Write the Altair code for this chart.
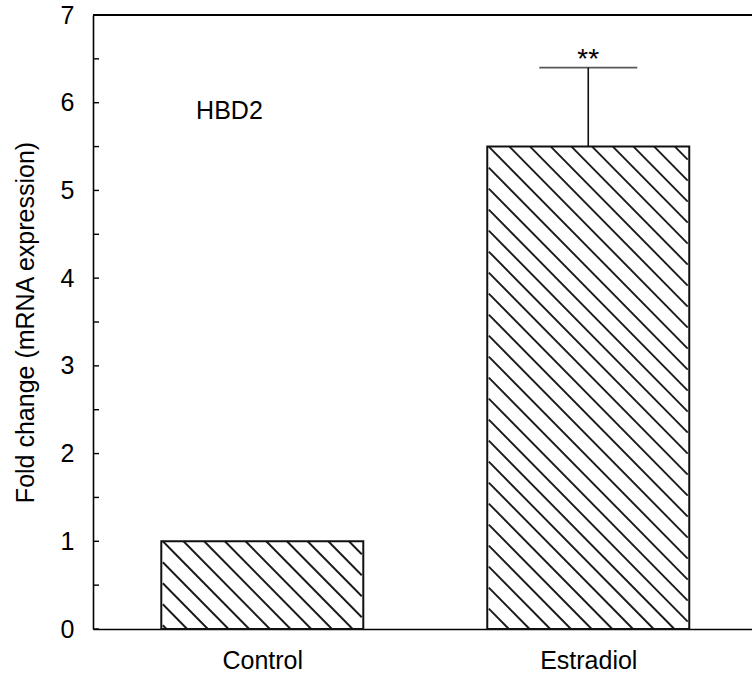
import altair as alt
import pandas as pd

# ---- data ----
categories = ["Control", "Estradiol"]
cat_pos = [1, 2]
fold_change = [1.0, 5.5]
err_cats = ["Estradiol"]
err_pos = [2]
err_low = [5.5]
err_high = [6.4]
sig_labels = ["**"]
y_tick_values = [0, 0.5, 1, 1.5, 2, 2.5, 3, 3.5, 4, 4.5, 5, 5.5, 6, 6.5, 7]
y_label_values = [0, 1, 2, 3, 4, 5, 6, 7]
panel_label = ["HBD2"]

# ---- layout constants ----
W, H = 659, 614
XDOM = [0.496, 2.487]
YDOM = [0, 7]
BAR_PX = 202
CAP_PX = 98
HATCH_STEP = 21
FONT = "Liberation Sans"
FS = 25

x_scale = alt.Scale(domain=XDOM, nice=False, zero=False)
y_scale = alt.Scale(domain=YDOM, nice=False)

bars = pd.DataFrame({"cat": categories, "pos": cat_pos, "value": fold_change})
errs = pd.DataFrame({"cat": err_cats, "pos": err_pos, "lo": err_low, "hi": err_high, "sig": sig_labels})
ticks = pd.DataFrame({"t": y_tick_values})
label_df = pd.DataFrame({"txt": panel_label, "px": [0.797], "py": [5.815]})

# hatch segments derived from the bar values (45 deg in pixel space)
kx = W / (XDOM[1] - XDOM[0])
ky = H / (YDOM[1] - YDOM[0])
rows = []
for c, v in zip(cat_pos, fold_change):
    xl = (c - XDOM[0]) * kx - BAR_PX / 2
    xr = xl + BAR_PX
    yt = (v - YDOM[0]) * ky
    b0 = xl + yt
    k_min = int((xl - b0) // HATCH_STEP)
    k_max = int((xr + yt - b0) // HATCH_STEP) + 1
    for k in range(k_min, k_max + 1):
        b = b0 + k * HATCH_STEP
        xs = max(xl, b - yt)
        xe = min(xr, b)
        if xe - xs < 1:
            continue
        ys, ye = b - xs, b - xe
        rows.append({
            "x1": XDOM[0] + xs / kx, "x2": XDOM[0] + xe / kx,
            "y1": YDOM[0] + ys / ky, "y2": YDOM[0] + ye / ky,
        })
hatch_df = pd.DataFrame(rows)

label_expr = f"{categories}[datum.value - 1]"

x_axis = alt.Axis(values=cat_pos, labelExpr=label_expr, title=None, ticks=False, grid=False,
                  domainColor="black", domainWidth=1.6, labelFontSize=FS, labelColor="black",
                  labelPadding=19, labelFont=FONT)
y_axis = alt.Axis(values=y_label_values, format="d", title="Fold change (mRNA expression)",
                  ticks=False, grid=False,
                  domainColor="black", domainWidth=1.6, labelFontSize=FS, labelColor="black",
                  labelPadding=19, labelFont=FONT, titleFont=FONT, titleFontSize=FS,
                  titleFontWeight="normal", titleColor="black", titlePadding=22)

base_fill = alt.Chart(bars).mark_bar(size=BAR_PX, fill="white", stroke=None).encode(
    x=alt.X("pos:Q", scale=x_scale, axis=x_axis),
    y=alt.Y("value:Q", scale=y_scale, axis=y_axis),
)

hatch = alt.Chart(hatch_df).mark_rule(color="#1a1a1a", strokeWidth=1.9).encode(
    x=alt.X("x1:Q", scale=x_scale),
    x2="x2:Q",
    y=alt.Y("y1:Q", scale=y_scale),
    y2="y2:Q",
)

outline = alt.Chart(bars).mark_bar(size=BAR_PX, fill=None, fillOpacity=0, stroke="#111111", strokeWidth=2).encode(
    x=alt.X("pos:Q", scale=x_scale),
    y=alt.Y("value:Q", scale=y_scale),
)

err_rule = alt.Chart(errs).mark_rule(color="#111111", strokeWidth=1.6).encode(
    x=alt.X("pos:Q", scale=x_scale),
    y=alt.Y("lo:Q", scale=y_scale),
    y2="hi:Q",
)

err_cap = alt.Chart(errs).mark_tick(orient="horizontal", size=CAP_PX, thickness=1.6, color="#111111").encode(
    x=alt.X("pos:Q", scale=x_scale),
    y=alt.Y("hi:Q", scale=y_scale),
)

sig = alt.Chart(errs).mark_text(fontSize=28, font=FONT, color="black", baseline="alphabetic", align="center").encode(
    x=alt.X("pos:Q", scale=x_scale),
    y=alt.Y("hi:Q", scale=y_scale),
    text="sig:N",
)

inner_ticks = alt.Chart(ticks).mark_rule(color="black", strokeWidth=1.4).encode(
    y=alt.Y("t:Q", scale=y_scale),
    x=alt.value(0),
    x2=alt.value(6),
)

top_line = alt.Chart(ticks).mark_rule(color="black", strokeWidth=1.6).encode(
    y=alt.datum(YDOM[1], scale=y_scale),
    x=alt.value(0),
    x2=alt.value(W),
)

hbd = alt.Chart(label_df).mark_text(fontSize=FS, font=FONT, color="black", align="left", baseline="alphabetic").encode(
    x=alt.X("px:Q", scale=x_scale),
    y=alt.Y("py:Q", scale=y_scale),
    text="txt:N",
)

chart = alt.layer(
    base_fill, hatch, outline, err_rule, err_cap, sig, inner_ticks, top_line, hbd
).properties(
    width=W, height=H,
    autosize=alt.AutoSizeParams(type="none"),
    padding={"left": 93, "top": 15, "right": 0, "bottom": 46},
).configure_view(stroke=None).configure(background="white")

chart.save("out.html", embed_options={"renderer": "svg", "actions": False})
